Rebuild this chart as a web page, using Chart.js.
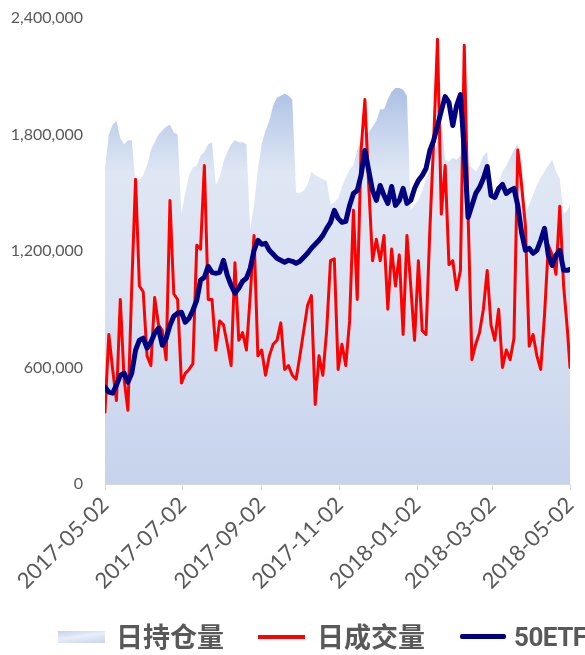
<!DOCTYPE html>
<html>
<head>
<meta charset="utf-8">
<script src="https://cdn.jsdelivr.net/npm/chart.js@4.4.0/dist/chart.umd.min.js"></script>
<style>
html, body { margin: 0; padding: 0; background: #fff; }
#wrap { position: relative; width: 585px; height: 655px; overflow: hidden; }
#legend span { position: absolute; }
#legend .txt { top: 621px; font-family: "Noto Sans CJK SC", sans-serif; font-size: 27px; line-height: 30px; color: #595959; font-weight: bold; white-space: nowrap; }
#legend .etf { font-family: Roboto, sans-serif; font-size: 26px; top: 622px; letter-spacing: -0.5px; }
</style>
</head>
<body>
<div id="wrap">
<canvas id="myChart" width="585" height="655"></canvas>
<div id="legend">
  <span style="left:58px;top:631px;width:47px;height:12px;background:linear-gradient(172deg,#c3d1eb 0%,#e8edf8 45%,#c8d5ee 100%);"></span>
  <span class="txt" style="left:116px;">日持仓量</span>
  <span style="left:258px;top:635px;width:47px;height:4px;background:#ff0000;"></span>
  <span class="txt" style="left:317px;">日成交量</span>
  <span style="left:460px;top:634px;width:46px;height:5px;background:#000080;border-radius:2px;"></span>
  <span class="txt etf" style="left:514px;">50ETF</span>
</div>
</div>
<script>
// sampled trading dates
var dates = [
  '2017-05-02','2017-05-05','2017-05-08','2017-05-11','2017-05-14','2017-05-17','2017-05-20','2017-05-23','2017-05-26','2017-05-29',
  '2017-06-01','2017-06-04','2017-06-07','2017-06-10','2017-06-13','2017-06-16','2017-06-19','2017-06-22','2017-06-25','2017-06-28',
  '2017-07-01','2017-07-04','2017-07-07','2017-07-10','2017-07-13','2017-07-16','2017-07-19','2017-07-22','2017-07-25','2017-07-28',
  '2017-07-31','2017-08-03','2017-08-06','2017-08-09','2017-08-12','2017-08-15','2017-08-18','2017-08-21','2017-08-24','2017-08-27',
  '2017-08-30','2017-09-02','2017-09-05','2017-09-08','2017-09-11','2017-09-14','2017-09-17','2017-09-20','2017-09-23','2017-09-26',
  '2017-09-29','2017-10-02','2017-10-05','2017-10-08','2017-10-11','2017-10-14','2017-10-17','2017-10-20','2017-10-23','2017-10-26',
  '2017-10-29','2017-11-01','2017-11-04','2017-11-07','2017-11-10','2017-11-13','2017-11-16','2017-11-19','2017-11-22','2017-11-25',
  '2017-11-28','2017-12-01','2017-12-04','2017-12-07','2017-12-10','2017-12-13','2017-12-16','2017-12-19','2017-12-22','2017-12-25',
  '2017-12-28','2017-12-31','2018-01-03','2018-01-06','2018-01-09','2018-01-12','2018-01-15','2018-01-18','2018-01-21','2018-01-24',
  '2018-01-27','2018-01-30','2018-02-02','2018-02-05','2018-02-08','2018-02-11','2018-02-14','2018-02-17','2018-02-20','2018-02-23',
  '2018-02-26','2018-03-01','2018-03-04','2018-03-07','2018-03-10','2018-03-13','2018-03-16','2018-03-19','2018-03-22','2018-03-25',
  '2018-03-28','2018-03-31','2018-04-03','2018-04-06','2018-04-09','2018-04-12','2018-04-15','2018-04-18','2018-04-21','2018-04-24',
  '2018-04-27','2018-04-30','2018-05-02'
];

// 日持仓量
var holdings = [
  1630000,1800000,1850000,1870000,1780000,1750000,1770000,1770000,1550000,1570000,
  1590000,1640000,1720000,1760000,1800000,1820000,1840000,1850000,1810000,1800000,
  1390000,1500000,1590000,1630000,1640000,1690000,1710000,1750000,1760000,1540000,
  1580000,1660000,1710000,1750000,1770000,1760000,1760000,1750000,1310000,1440000,
  1620000,1750000,1820000,1870000,1950000,1990000,2000000,2010000,2000000,1980000,
  1500000,1500000,1510000,1540000,1610000,1590000,1580000,1570000,1560000,1440000,
  1450000,1470000,1530000,1580000,1620000,1640000,1720000,1770000,1810000,1810000,
  1840000,1870000,1930000,1930000,1980000,2020000,2040000,2040000,2030000,2000000,
  1410000,1440000,1460000,1510000,1570000,1620000,1670000,1770000,1870000,1670000,
  1660000,1680000,1670000,1690000,1720000,1640000,1630000,1610000,1640000,1690000,
  1710000,1440000,1490000,1540000,1610000,1640000,1680000,1720000,1750000,1670000,
  1390000,1440000,1490000,1540000,1580000,1610000,1640000,1670000,1610000,1570000,
  1390000,1410000,1440000
];

// 日成交量
var volume = [
  370000,770000,590000,430000,950000,540000,380000,1020000,1570000,1020000,
  990000,660000,610000,960000,820000,790000,640000,1460000,980000,950000,
  520000,570000,590000,620000,1230000,1210000,1640000,950000,950000,690000,
  840000,820000,720000,610000,1140000,740000,780000,690000,970000,1280000,
  660000,690000,560000,660000,720000,740000,830000,590000,610000,560000,
  540000,660000,790000,920000,970000,410000,660000,560000,790000,1150000,
  1160000,590000,720000,610000,840000,1410000,950000,1720000,1980000,1540000,
  1150000,1260000,1150000,1280000,900000,1210000,1020000,1180000,770000,1280000,
  1020000,740000,1150000,790000,770000,1310000,1770000,2290000,1390000,1640000,
  1130000,1150000,1000000,1100000,2260000,1390000,640000,720000,780000,900000,
  1100000,820000,740000,900000,600000,690000,640000,750000,1720000,1540000,
  1330000,710000,770000,660000,590000,870000,1230000,1180000,1080000,1430000,
  1020000,790000,600000
];

// 50ETF
var etf = [
  2.291,2.276,2.273,2.297,2.327,2.333,2.306,2.333,2.402,2.432,
  2.438,2.408,2.426,2.453,2.468,2.417,2.438,2.477,2.504,2.513,
  2.516,2.486,2.498,2.522,2.552,2.612,2.621,2.654,2.636,2.633,
  2.636,2.672,2.627,2.597,2.573,2.588,2.609,2.618,2.648,2.702,
  2.732,2.720,2.723,2.702,2.690,2.678,2.672,2.666,2.672,2.669,
  2.663,2.669,2.681,2.693,2.708,2.720,2.732,2.747,2.768,2.786,
  2.822,2.798,2.786,2.789,2.837,2.873,2.882,2.927,3.002,2.942,
  2.882,2.852,2.897,2.867,2.843,2.894,2.837,2.852,2.888,2.843,
  2.852,2.888,2.912,2.927,2.948,3.002,3.032,3.077,3.122,3.164,
  3.146,3.077,3.137,3.170,3.002,2.801,2.837,2.873,2.891,2.918,
  2.954,2.867,2.861,2.888,2.900,2.873,2.882,2.888,2.837,2.756,
  2.702,2.708,2.693,2.702,2.732,2.768,2.687,2.657,2.687,2.702,
  2.642,2.642,2.645
];

var tickLabels = ['2017-05-02','2017-07-02','2017-09-02','2017-11-02','2018-01-02','2018-03-02','2018-05-02'];

var dayOf = function (s) {
    var p = s.split('-');
    return Math.round((Date.UTC(+p[0], +p[1] - 1, +p[2]) - Date.UTC(2017, 4, 2)) / 86400000);
};
var tickDays = tickLabels.map(dayOf);
var pts = function (arr) {
    return dates.map(function (d, i) { return { x: dayOf(d), y: arr[i] }; });
};

var areaFill = function (context) {
    var chart = context.chart;
    var area = chart.chartArea;
    if (!area) return '#dde5f3';
    var g = chart.ctx.createLinearGradient(0, area.top, 0, area.bottom);
    g.addColorStop(0, '#9fb6df');
    g.addColorStop(0.15, '#adc1e5');
    g.addColorStop(0.33, '#dfe6f4');
    g.addColorStop(0.6, '#dae2f2');
    g.addColorStop(1, '#c6d3ec');
    return g;
};

var gray = '#595959';

var ctx = document.getElementById('myChart').getContext('2d');
var myChart = new Chart(ctx, {
    type: 'line',
    data: {
        datasets: [{
            label: '日持仓量',
            data: pts(holdings),
            backgroundColor: areaFill,
            borderWidth: 0,
            fill: 'origin',
            pointRadius: 0,
            order: 2,
            yAxisID: 'y'
        }, {
            label: '日成交量',
            data: pts(volume),
            borderColor: '#ff0000',
            borderWidth: 3,
            borderJoinStyle: 'round',
            borderCapStyle: 'round',
            fill: false,
            pointRadius: 0,
            order: 1,
            yAxisID: 'y'
        }, {
            label: '50ETF',
            data: pts(etf),
            borderColor: '#000080',
            borderWidth: 5,
            borderJoinStyle: 'round',
            borderCapStyle: 'round',
            fill: false,
            pointRadius: 0,
            order: 0,
            yAxisID: 'y2'
        }]
    },
    options: {
        responsive: false,
        animation: false,
        layout: { padding: { top: 18, right: 15, left: 0, bottom: 0 } },
        plugins: {
            legend: { display: false },
            tooltip: { enabled: false }
        },
        scales: {
            x: {
                type: 'linear',
                min: 0,
                max: 365,
                afterBuildTicks: function (s) {
                    s.ticks = tickDays.map(function (v) { return { value: v }; });
                },
                afterFit: function (s) {
                    s.height = 171;
                    s.paddingLeft = 0;
                    s.paddingRight = 0;
                },
                ticks: {
                    autoSkip: false,
                    minRotation: 45,
                    maxRotation: 45,
                    padding: 2,
                    color: gray,
                    font: { family: 'Lato', size: 22 },
                    callback: function (v) {
                        var i = tickDays.indexOf(v);
                        return i < 0 ? '' : tickLabels[i];
                    }
                },
                grid: { display: true, drawOnChartArea: false, drawTicks: true, tickLength: 6, color: '#d9d9d9' },
                border: { display: true, color: '#d9d9d9', width: 1 }
            },
            y: {
                min: 0,
                max: 2400000,
                afterFit: function (s) {
                    s.width = 105;
                    s.paddingTop = 0;
                    s.paddingBottom = 0;
                },
                ticks: {
                    stepSize: 600000,
                    padding: 22,
                    color: gray,
                    font: { family: 'Lato', size: 16 },
                    callback: function (v) { return v.toLocaleString('en-US'); }
                },
                grid: { display: false, drawTicks: false },
                border: { display: false }
            },
            y2: {
                display: false,
                min: 2.0,
                max: 3.4
            }
        }
    }
});
</script>
</body>
</html>
